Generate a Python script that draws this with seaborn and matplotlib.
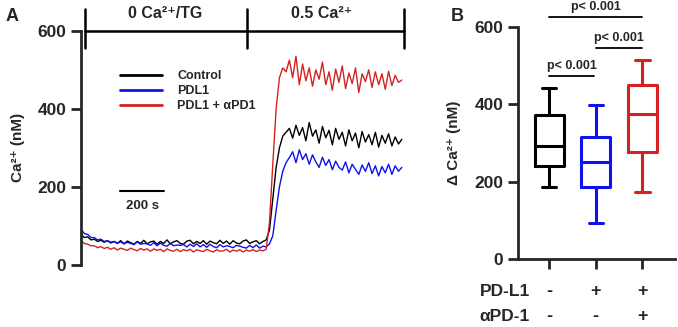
import numpy as np
import pandas as pd
import seaborn as sns
import matplotlib.pyplot as plt

# ---- panel A: Ca2+ traces (nM), one sample every 15 s ----
time_s = np.arange(0, 1470, 15)

control = [78, 70, 72, 64, 66, 60, 63, 58, 62, 56,
           60, 55, 62, 54, 61, 57, 53, 60, 55, 63,
           54, 59, 61, 53, 60, 55, 64, 54, 59, 62,
           55, 53, 61, 63, 54, 60, 55, 62, 53, 61,
           57, 54, 63, 55, 61, 53, 62, 56, 54, 61,
           64, 55, 59, 62, 54, 60,
           64, 90, 170, 250, 300, 330, 340,
           350, 325, 358, 332, 352, 318, 365, 330, 346, 312,
           355, 326, 345, 308, 350, 322, 340, 305, 346, 318,
           338, 300, 342, 315, 334, 308, 340, 302, 332, 312,
           336, 305, 328, 310, 322]

pdl1 = [92, 80, 78, 70, 70, 64, 66, 60, 62, 58,
        60, 56, 59, 54, 58, 55, 52, 59, 53, 55,
        54, 50, 57, 49, 56, 50, 48, 55, 49, 51,
        50, 52, 46, 53, 47, 54, 46, 52, 45, 53,
        47, 44, 52, 46, 49, 47, 44, 50, 48, 45,
        43, 50, 44, 51, 43, 48,
        46, 54, 75, 140, 200, 240, 262,
        275, 290, 262, 295, 270, 285, 258, 282, 264, 250,
        276, 255, 270, 244, 266, 250, 243, 264, 236, 258,
        245, 232, 256, 240, 262, 234, 254, 228, 252, 236,
        258, 232, 254, 240, 250]

pdl1_apd1 = [62, 55, 53, 49, 49, 44, 47, 42, 45, 40,
             44, 38, 43, 40, 37, 43, 39, 36, 42, 38,
             41, 35, 41, 37, 40, 34, 41, 37, 35, 40,
             34, 39, 36, 40, 33, 39, 36, 34, 40, 36,
             33, 39, 35, 36, 40, 33, 38, 35, 39, 33,
             38, 35, 39, 34, 38, 36,
             40, 110, 260, 400, 480, 505, 495,
             525, 480, 535, 462, 515, 472, 505, 458, 500, 476,
             520, 462, 495, 448, 502, 468, 510, 452, 492, 465,
             505, 442, 490, 470, 500, 455, 495, 462, 490, 450,
             496, 460, 486, 468, 474]

trace_names = ["Control", "PDL1", "PDL1 + αPD1"]
phase_edges = [20, 755, 1465]
phase_labels = ["0 Ca²⁺/TG", "0.5 Ca²⁺"]

# ---- panel B: box summaries (min, Q1, median, Q3, max) ----
box_groups = ["ctrl", "pdl1", "pdl1_apd1"]
box_ctrl = [185, 240, 292, 372, 443]
box_pdl1 = [93, 186, 251, 315, 398]
box_pdl1_apd1 = [173, 277, 375, 450, 515]
pdl1_signs = ["-", "+", "+"]
apd1_signs = ["-", "-", "+"]

colors = ["#000000", "#1010f0", "#d42222"]

sns.set_style("ticks")
plt.rcParams["font.family"] = ["Liberation Sans", "DejaVu Sans"]
plt.rcParams["font.weight"] = "bold"
plt.rcParams["axes.labelweight"] = "bold"

fig = plt.figure(figsize=(6.78, 3.27), dpi=100)
ax = fig.add_axes([0.1195, 0.19, 0.478, 0.7156])
ax2 = fig.add_axes([0.764, 0.208, 0.2316, 0.7095])

traces = pd.DataFrame({
    "t": np.concatenate([time_s] * 3),
    "ca": control + pdl1 + pdl1_apd1,
    "group": np.repeat(trace_names, len(time_s)),
})
sns.lineplot(data=traces, x="t", y="ca", hue="group", palette=colors,
             linewidth=1.0, ax=ax)
ax.set_xlim(0, 1470)
ax.set_ylim(0, 600)
ax.set_yticks([0, 200, 400, 600])
ax.set_xticks([])
ax.set_xlabel("")
ax.set_ylabel("Ca²⁺ (nM)", fontsize=11, fontweight="bold", labelpad=9)
for s in ["top", "right", "bottom"]:
    ax.spines[s].set_visible(False)
ax.spines["left"].set_linewidth(2)
ax.tick_params(axis="y", width=2, length=7, labelsize=12.5)
for lab in ax.get_yticklabels():
    lab.set_fontweight("bold")

leg = ax.legend(loc="upper left", bbox_to_anchor=(0.1, 0.86), frameon=False,
                fontsize=9, handlelength=3.4, borderpad=0, labelspacing=0.25,
                handletextpad=1.2)
for line in leg.get_lines():
    line.set_linewidth(2)

# stimulus bar on top
ax.plot([phase_edges[0], phase_edges[-1]], [600, 600], color="black", lw=1.8,
        clip_on=False)
for x in phase_edges:
    ax.plot([x, x], [555, 655], color="black", lw=1.8, clip_on=False)
ax.text(380, 645, phase_labels[0], ha="center", va="center", fontsize=11.5,
        fontweight="bold")
ax.text(1090, 645, phase_labels[1], ha="center", va="center", fontsize=11.5,
        fontweight="bold")

# scale bar
ax.plot([177, 377], [190, 190], color="black", lw=1.5)
ax.text(277, 150, "200 s", ha="center", va="center", fontsize=9.5,
        fontweight="bold")

# ---- panel B ----
boxes = pd.DataFrame({
    "group": np.repeat(box_groups, 5),
    "val": box_ctrl + box_pdl1 + box_pdl1_apd1,
})
sns.boxplot(data=boxes, x="group", y="val", hue="group", palette=colors,
            fill=False, whis=np.inf, width=0.62, linewidth=2.2, legend=False,
            ax=ax2)
ax2.set_xlim(-0.67, 2.7)
ax2.set_ylim(0, 600)
ax2.set_yticks([0, 200, 400, 600])
ax2.set_xticklabels([])
ax2.set_xlabel("")
ax2.set_ylabel("Δ Ca²⁺ (nM)", fontsize=11, fontweight="bold", labelpad=10)
for s in ["top", "right"]:
    ax2.spines[s].set_visible(False)
for s in ["left", "bottom"]:
    ax2.spines[s].set_linewidth(2)
ax2.tick_params(width=2, length=7, labelsize=12.5)
for lab in ax2.get_yticklabels():
    lab.set_fontweight("bold")

tr = ax2.get_xaxis_transform()
for row_y, name, signs in [(-0.142, "PD-L1", pdl1_signs),
                           (-0.25, "αPD-1", apd1_signs)]:
    ax2.text(-0.42, row_y, name, transform=tr, ha="right", va="center",
             fontsize=12.5, fontweight="bold")
    for i, sg in enumerate(signs):
        ax2.text(i, row_y, sg, transform=tr, ha="center", va="center",
                 fontsize=13, fontweight="bold")

# significance brackets
for x0, x1, y in [(0, 2, 626), (1, 2, 546), (0, 0.97, 473)]:
    ax2.plot([x0, x1], [y, y], color="black", lw=1.3, clip_on=False)
    ax2.text((x0 + x1) / 2, y + 10, "p< 0.001", ha="center", va="bottom",
             fontsize=9, fontweight="bold")

fig.text(0.008, 0.975, "A", fontsize=13, fontweight="bold", va="top")
fig.text(0.665, 0.975, "B", fontsize=13, fontweight="bold", va="top")

fig.savefig("out.png", dpi=100)
